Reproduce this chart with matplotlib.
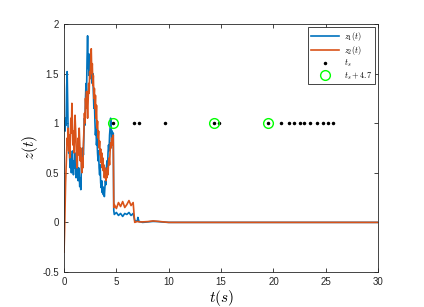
import matplotlib
matplotlib.use("Agg")
import matplotlib.pyplot as plt
import numpy as np

# time grid of the noisy transient part (step 0.05 s, 0 .. 4.75)
t_noisy = np.round(np.arange(0, 4.80, 0.05), 2)

z1_noisy = [0.95, 1.02, 0.92, 1.05, 0.98, 1.35, 1.52, 1.20, 0.85, 0.70,
            0.78, 0.62, 0.55, 0.68, 0.50, 0.60, 0.72, 0.58, 0.48, 0.62,
            0.55, 0.70, 0.58, 0.45, 0.52, 0.66, 0.50, 0.42, 0.55, 0.48,
            0.36, 0.45, 0.33, 0.52, 0.62, 0.55, 0.75, 0.68, 0.90, 1.05,
            0.98, 1.25, 1.40, 1.30, 1.65, 1.88, 1.55, 1.70, 1.48, 1.62,
            1.45, 1.70, 1.52, 1.58, 1.40, 1.50, 1.32, 1.15, 1.25, 1.02,
            0.88, 0.95, 0.78, 0.85, 0.70, 0.62, 0.72, 0.55, 0.48, 0.58,
            0.40, 0.35, 0.42, 0.30, 0.36, 0.28, 0.33, 0.26, 0.35, 0.42,
            0.38, 0.55, 0.62, 0.52, 0.70, 0.78, 0.72, 0.88, 0.95, 1.05,
            0.98, 0.80, 0.92, 0.85, 0.90, 0.12]

z2_noisy = [-0.30, -0.10, 0.15, 0.40, 0.55, 0.70, 0.85, 0.78, 0.95, 0.72,
            0.88, 0.65, 0.82, 1.05, 0.90, 1.20, 1.00, 0.78, 0.92, 0.70,
            0.85, 1.08, 0.95, 0.80, 0.62, 0.55, 0.72, 0.85, 0.68, 0.95,
            0.80, 0.62, 0.75, 0.58, 0.50, 0.65, 0.55, 0.78, 0.92, 1.10,
            1.00, 1.25, 1.15, 1.32, 1.20, 1.05, 1.22, 1.40, 1.30, 1.52,
            1.45, 1.62, 1.75, 1.50, 1.60, 1.38, 1.48, 1.25, 1.35, 1.15,
            1.28, 1.05, 1.18, 0.95, 1.02, 0.85, 0.92, 0.75, 0.82, 0.68,
            0.74, 0.60, 0.70, 0.55, 0.65, 0.52, 0.58, 0.45, 0.55, 0.50,
            0.42, 0.52, 0.45, 0.55, 0.48, 0.60, 0.65, 0.58, 0.72, 0.80,
            0.75, 0.85, 0.78, 0.82, 0.88, 0.15]

# slower tail after the first event
t_tail = [4.8, 5.0, 5.2, 5.4, 5.6, 5.8, 6.0, 6.2, 6.4, 6.6, 6.75, 7.0,
          7.05, 7.15, 7.5, 8.0, 8.5, 9.0, 9.5, 10.0, 30.0]
z1_tail = [0.08, 0.10, 0.07, 0.09, 0.06, 0.09, 0.08, 0.10, 0.07, 0.09,
           0.02, 0.01, 0.05, 0.01, 0.0, 0.005, 0.01, 0.008, 0.003, 0.0, 0.0]
z2_tail = [0.18, 0.14, 0.20, 0.16, 0.21, 0.15, 0.18, 0.22, 0.17, 0.20,
           0.0, 0.01, 0.01, 0.005, 0.005, 0.008, 0.015, 0.01, 0.005, 0.0, 0.0]

# event times
t_s = [4.7, 6.7, 7.2, 9.65, 14.3, 14.8, 19.5, 20.7, 21.5, 22.0, 22.5,
       22.9, 23.5, 24.2, 24.7, 25.2, 25.7]
t_circ = [4.7, 14.3, 19.5]

t = np.concatenate([t_noisy, t_tail])
z1 = np.concatenate([z1_noisy, z1_tail])
z2 = np.concatenate([z2_noisy, z2_tail])

plt.rcParams['font.family'] = ['Liberation Sans', 'DejaVu Sans']
plt.rcParams['mathtext.fontset'] = 'cm'

fig = plt.figure(figsize=(4.24, 3.07), dpi=100)
ax = fig.add_axes([0.151, 0.114, 0.741, 0.808])

ax.plot(t, z1, color='#0072BD', linewidth=1.2, label=r'$z_1(t)$')
ax.plot(t, z2, color='#D95319', linewidth=1.2, label=r'$z_2(t)$')
ax.plot(t_s, np.ones(len(t_s)), 'k.', markersize=3, linestyle='none', label=r'$t_s$')
ax.plot(t_circ, np.ones(len(t_circ)), 'o', markersize=7, markerfacecolor='none',
        markeredgecolor='#00FF00', markeredgewidth=1.0, linestyle='none',
        label=r'$t_s+4.7$')

ax.set_xlim(0, 30)
ax.set_ylim(-0.5, 2)
ax.set_xticks([0, 5, 10, 15, 20, 25, 30])
ax.set_yticks([-0.5, 0, 0.5, 1, 1.5, 2])
ax.set_yticklabels(['-0.5', '0', '0.5', '1', '1.5', '2'])
ax.tick_params(direction='in', top=True, right=True, labelsize=7,
               length=3, width=0.6, colors='#262626')
for s in ax.spines.values():
    s.set_linewidth(0.6)
    s.set_color('#262626')

ax.set_xlabel(r'$t(s)$', fontsize=11, labelpad=1)
ax.set_ylabel(r'$z(t)$', fontsize=11, labelpad=2)

leg = ax.legend(loc='upper right', fontsize=6, frameon=True, fancybox=False,
                edgecolor='#262626', framealpha=1, handlelength=3.4,
                borderaxespad=0.4, labelspacing=0.12, borderpad=0.3,
                handletextpad=0.6)
leg.get_frame().set_linewidth(0.6)

fig.savefig('out.png', dpi=100)
